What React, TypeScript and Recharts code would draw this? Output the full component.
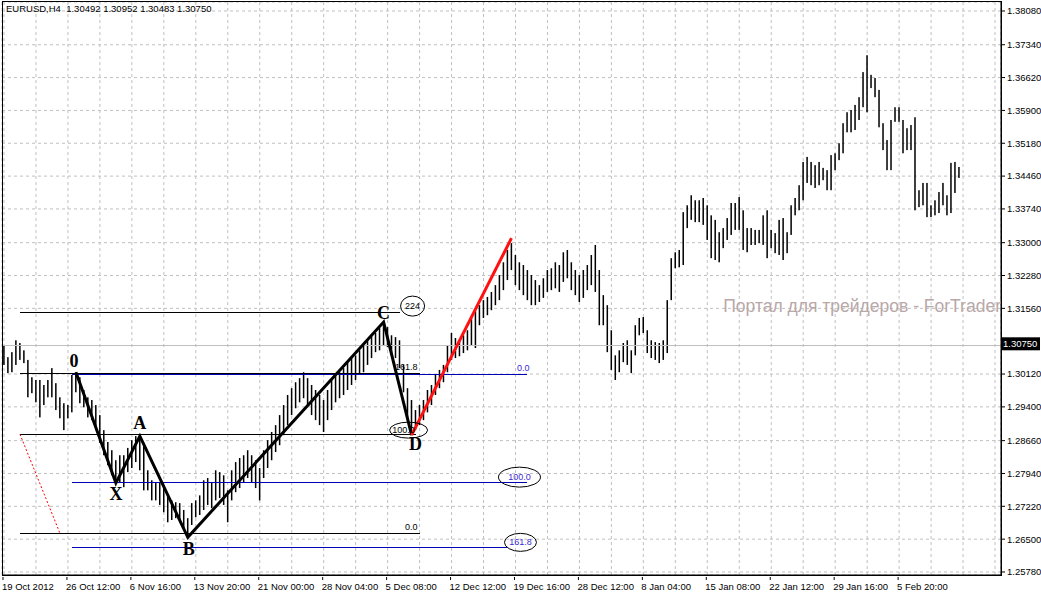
import {
  Bar,
  CartesianGrid,
  ComposedChart,
  Line,
  ReferenceDot,
  ReferenceLine,
  XAxis,
  YAxis,
} from "recharts";

// each column = two H4 bars, [high, low]
const OCT_19: [number, number][] = [
  [1.3075, 1.3032], [1.3049, 1.3014], [1.306, 1.3016], [1.3086, 1.3032],
  [1.308, 1.3043], [1.3064, 1.3036], [1.3043, 1.2961], [1.3005, 1.297],
  [1.2999, 1.295], [1.2999, 1.2917], [1.2988, 1.2944], [1.2999, 1.2961],
  [1.3025, 1.2961], [1.2992, 1.2933], [1.2961, 1.2915], [1.2948, 1.2889],
];
const OCT_26: [number, number][] = [
  [1.2944, 1.2915], [1.301, 1.2928], [1.3016, 1.2972], [1.3005, 1.2948],
  [1.2977, 1.2939], [1.2961, 1.2917], [1.2955, 1.2911], [1.2944, 1.2889],
  [1.2922, 1.2861], [1.2889, 1.2834], [1.2863, 1.2812], [1.2845, 1.279],
  [1.2823, 1.2773], [1.2834, 1.2773], [1.2834, 1.2764], [1.285, 1.2797],
];
const NOV_6: [number, number][] = [
  [1.2867, 1.2806], [1.2876, 1.2819], [1.2876, 1.2801], [1.2856, 1.2757],
  [1.2801, 1.2757], [1.2779, 1.2735], [1.2773, 1.2735], [1.2773, 1.2725],
  [1.2762, 1.2709], [1.2746, 1.2687], [1.2735, 1.2692], [1.2731, 1.2696],
  [1.2729, 1.2692], [1.2714, 1.267], [1.2696, 1.2654], [1.2729, 1.2681],
];
const NOV_13: [number, number][] = [
  [1.2735, 1.2698], [1.2746, 1.2703], [1.2779, 1.2714], [1.2784, 1.2725],
  [1.2775, 1.2718], [1.2801, 1.2735], [1.2797, 1.274], [1.279, 1.2725],
  [1.2757, 1.2687], [1.2801, 1.2735], [1.2819, 1.2753], [1.2828, 1.2762],
  [1.2834, 1.2775], [1.2845, 1.2784], [1.2834, 1.2775], [1.2823, 1.2762],
];
const NOV_21: [number, number][] = [
  [1.2806, 1.2735], [1.2845, 1.2784], [1.2867, 1.2806], [1.2885, 1.2823],
  [1.29, 1.2841], [1.2922, 1.2856], [1.2944, 1.2878], [1.2966, 1.29],
  [1.2981, 1.2922], [1.2994, 1.2937], [1.3003, 1.295], [1.3016, 1.2959],
  [1.3003, 1.2944], [1.2988, 1.2922], [1.2977, 1.2911], [1.2966, 1.29],
];
const NOV_28: [number, number][] = [
  [1.2955, 1.2885], [1.2977, 1.2911], [1.2999, 1.2933], [1.301, 1.295],
  [1.3016, 1.2959], [1.3025, 1.2966], [1.3038, 1.2977], [1.3047, 1.2988],
  [1.3053, 1.2999], [1.3064, 1.301], [1.3075, 1.3016], [1.3086, 1.3032],
  [1.3097, 1.3047], [1.3102, 1.306], [1.3113, 1.3064], [1.3126, 1.3075],
];
const DEC_5: [number, number][] = [
  [1.3115, 1.3071], [1.3097, 1.3053], [1.3093, 1.3047], [1.3086, 1.3025],
  [1.3032, 1.2972], [1.2981, 1.2915], [1.2955, 1.2878], [1.2933, 1.2889],
  [1.2944, 1.29], [1.2955, 1.2911], [1.2977, 1.2928], [1.2988, 1.2944],
  [1.301, 1.2966], [1.3021, 1.2981], [1.3032, 1.2994], [1.3075, 1.3016],
];
const DEC_12: [number, number][] = [
  [1.3102, 1.3043], [1.3091, 1.3047], [1.3086, 1.3051], [1.3097, 1.3058],
  [1.3108, 1.3064], [1.3135, 1.3075], [1.3152, 1.3069], [1.3163, 1.3119],
  [1.3174, 1.3135], [1.3181, 1.3141], [1.3192, 1.3152], [1.3207, 1.3163],
  [1.3229, 1.3174], [1.3257, 1.3196], [1.3284, 1.3218], [1.3299, 1.324],
];
const DEC_19: [number, number][] = [
  [1.3273, 1.3207], [1.3257, 1.3196], [1.3251, 1.3185], [1.324, 1.3174],
  [1.3229, 1.3163], [1.3218, 1.3163], [1.3207, 1.317], [1.3222, 1.3179],
  [1.324, 1.3192], [1.3244, 1.3196], [1.3257, 1.32], [1.3251, 1.3192],
  [1.3279, 1.3214], [1.3284, 1.3222], [1.3257, 1.3196], [1.324, 1.3185],
];
const DEC_28: [number, number][] = [
  [1.3229, 1.317], [1.324, 1.3179], [1.3251, 1.3196], [1.3273, 1.3207],
  [1.3295, 1.3192], [1.324, 1.3119], [1.3185, 1.3119], [1.3163, 1.306],
  [1.3108, 1.3021], [1.3053, 1.2999], [1.3064, 1.3016], [1.308, 1.3038],
  [1.3086, 1.3032], [1.3064, 1.3014], [1.3119, 1.3053], [1.3135, 1.3097],
];
const JAN_8: [number, number][] = [
  [1.3137, 1.3102], [1.3108, 1.3058], [1.3086, 1.3047], [1.3082, 1.3043],
  [1.308, 1.3036], [1.3086, 1.3043], [1.3174, 1.3058], [1.3266, 1.3174],
  [1.3279, 1.3244], [1.3284, 1.3246], [1.3367, 1.3251], [1.3382, 1.3332],
  [1.3404, 1.335], [1.3393, 1.3345], [1.3393, 1.3345], [1.3398, 1.3339],
];
const JAN_15: [number, number][] = [
  [1.3382, 1.3306], [1.336, 1.3266], [1.335, 1.3262], [1.3323, 1.3257],
  [1.3332, 1.3288], [1.3354, 1.3306], [1.3387, 1.3317], [1.3387, 1.3328],
  [1.34, 1.3328], [1.3371, 1.3284], [1.3332, 1.3279], [1.3332, 1.3295],
  [1.3328, 1.3295], [1.3328, 1.3299], [1.336, 1.3295], [1.3371, 1.3266],
];
const JAN_22: [number, number][] = [
  [1.3328, 1.3288], [1.3321, 1.3277], [1.335, 1.3273], [1.3354, 1.3262],
  [1.3323, 1.3277], [1.3382, 1.3317], [1.3398, 1.336], [1.3426, 1.3371],
  [1.3477, 1.3393], [1.3488, 1.3431], [1.3477, 1.3426], [1.347, 1.342],
  [1.3477, 1.3426], [1.3464, 1.3437], [1.3459, 1.3415], [1.3492, 1.3415],
];
const JAN_29: [number, number][] = [
  [1.3496, 1.3459], [1.3518, 1.3481], [1.3562, 1.3496], [1.3586, 1.3542],
  [1.3591, 1.3542], [1.3602, 1.3547], [1.3619, 1.3569], [1.3674, 1.3597],
  [1.3711, 1.3586], [1.3668, 1.3639], [1.3661, 1.3619], [1.3635, 1.3553],
  [1.3562, 1.3503], [1.3525, 1.3459], [1.3569, 1.3459], [1.3597, 1.3565],
];
const FEB_5: [number, number][] = [
  [1.3597, 1.3565], [1.3569, 1.3496], [1.3551, 1.3503], [1.3558, 1.3503],
  [1.3575, 1.3371], [1.3415, 1.3378], [1.3431, 1.3382], [1.3431, 1.3356],
  [1.3382, 1.3356], [1.3393, 1.336], [1.3411, 1.3365], [1.3431, 1.3382],
  [1.3404, 1.336], [1.3475, 1.3365], [1.3477, 1.3409], [1.3466, 1.3442],
];

const TIME_LABELS = [
  "19 Oct 2012", "26 Oct 12:00", "6 Nov 16:00", "13 Nov 20:00", "21 Nov 00:00",
  "28 Nov 04:00", "5 Dec 08:00", "12 Dec 12:00", "19 Dec 16:00", "28 Dec 12:00",
  "8 Jan 04:00", "15 Jan 08:00", "22 Jan 12:00", "29 Jan 16:00", "5 Feb 20:00",
];
// 1.30840 sits under the last-price box, so it is left out
const PRICE_TICKS = [
  1.3808, 1.3734, 1.3662, 1.359, 1.3518, 1.3446, 1.3374, 1.33, 1.3228,
  1.3156, 1.3012, 1.294, 1.2866, 1.2794, 1.2722, 1.265, 1.2578,
];

// pattern 0-X-A-B-C-D
const PIVOT_NAMES = ["0", "X", "A", "B", "C", "D"];
const PIVOT_SLOTS = [18, 28, 34, 46, 95, 102];
const PIVOT_PRICES = [1.3016, 1.2773, 1.2876, 1.2654, 1.3126, 1.2878];

const RED_SLOTS = [102, 127];
const RED_PRICES = [1.2878, 1.331];
const DOT_SLOTS = [4, 14];
const DOT_PRICES = [1.288, 1.2663];

// fibo levels
const BLACK_LEVELS = [1.3148, 1.3014, 1.288, 1.2663];
const BLACK_ENDS = [99, 104, 103, 104];
const BLUE_LEVELS = [1.301, 1.2775, 1.2632];
const BLUE_ENDS = [131, 131, 126];

const LAST_PRICE = 1.3075;
const TITLE = "EURUSD,H4  1.30492 1.30952 1.30483 1.30750";
const WATERMARK = "Портал для трейдеров - ForTrader";

const SLOTS = 250;
const BARS = [
  OCT_19, OCT_26, NOV_6, NOV_13, NOV_21, NOV_28, DEC_5, DEC_12,
  DEC_19, DEC_28, JAN_8, JAN_15, JAN_22, JAN_29, FEB_5,
].flat();

const rows = Array.from({ length: SLOTS }, (_, i) => {
  const row: any = { i, hl: BARS[i] ? [BARS[i][1], BARS[i][0]] : null };
  const pv = PIVOT_SLOTS.indexOf(i);
  row.zz = pv >= 0 ? PIVOT_PRICES[pv] : null;
  const rd = RED_SLOTS.indexOf(i);
  row.red = rd >= 0 ? RED_PRICES[rd] : null;
  const dt = DOT_SLOTS.indexOf(i);
  row.dot = dt >= 0 ? DOT_PRICES[dt] : null;
  BLACK_LEVELS.forEach((p, n) => {
    row[`k${n}`] = i === 4 || i === BLACK_ENDS[n] ? p : null;
  });
  BLUE_LEVELS.forEach((p, n) => {
    row[`b${n}`] = i === 17 || i === BLUE_ENDS[n] ? p : null;
  });
  return row;
});

const FONT = "'Liberation Sans', Arial, sans-serif";
const SERIF = "'Liberation Serif', 'Times New Roman', serif";
const BLUE = "#0000b4";
const BLUE_TEXT = "#3a2ad8";

// where each pivot letter sits relative to its point
const LETTER_OFFSET: Record<string, [number, number]> = {
  "0": [-2, -5], X: [0, 17], A: [0, -7], B: [1, 18], C: [0, -3], D: [4, 15],
};

function TimeTick({ x, y, payload }: any) {
  const i = payload.value;
  const label = i % 16 === 0 ? TIME_LABELS[i / 16] : undefined;
  if (!label) return <g />;
  return (
    <g>
      <line x1={x - 1} x2={x - 1} y1={y} y2={y + 3} stroke="#000" />
      <text x={x - 2} y={y + 13} fontSize={9.5} fontFamily={FONT} fill="#000">
        {label}
      </text>
    </g>
  );
}

function OhlcBar(props: any) {
  if (!props.payload || !props.payload.hl) return <g />;
  const { x, y, width, height } = props;
  const top = height < 0 ? y + height : y;
  return <rect x={x + width / 2 - 0.75} y={top} width={1.5} height={Math.max(Math.abs(height), 1)} fill="#000" />;
}

function textShape(render: (cx: number, cy: number) => any) {
  return (p: any) => render(p.cx, p.cy);
}

export default function App() {
  return (
    <div style={{ position: "absolute", left: 0, top: 0, width: 1041, height: 592, background: "#fff" }}>
      <ComposedChart width={1041} height={592} data={rows} margin={{ top: 2, right: 0, bottom: 0, left: 2 }}>
        <CartesianGrid stroke="#c0c0c0" strokeDasharray="3 3" />
        <XAxis
          dataKey="i"
          type="category"
          ticks={Array.from({ length: 32 }, (_, k) => k * 8)}
          interval={0}
          tick={<TimeTick />}
          tickLine={false}
          tickSize={0}
          height={17}
          axisLine={{ stroke: "#000" }}
        />
        <YAxis
          orientation="right"
          domain={[1.25714, 1.38277]}
          ticks={PRICE_TICKS}
          allowDataOverflow
          width={40}
          tickSize={4}
          tickMargin={2}
          tickLine={{ stroke: "#000" }}
          axisLine={{ stroke: "#000" }}
          tick={{ fontSize: 9.5, fill: "#000", fontFamily: FONT }}
          tickFormatter={(v: number) => v.toFixed(5)}
        />
        <ReferenceLine y={LAST_PRICE} stroke="#c0c0c0" shapeRendering="crispEdges" />
        <Bar dataKey="hl" shape={<OhlcBar />} isAnimationActive={false} />
        {BLACK_LEVELS.map((_, n) => (
          <Line key={`k${n}`} dataKey={`k${n}`} stroke="#000" strokeWidth={1} shapeRendering="crispEdges" dot={false} activeDot={false} connectNulls isAnimationActive={false} />
        ))}
        {BLUE_LEVELS.map((_, n) => (
          <Line key={`b${n}`} dataKey={`b${n}`} stroke={BLUE} strokeWidth={1} shapeRendering="crispEdges" dot={false} activeDot={false} connectNulls isAnimationActive={false} />
        ))}
        <Line dataKey="dot" stroke="#ff0000" strokeWidth={1} strokeDasharray="2 2" dot={false} activeDot={false} connectNulls isAnimationActive={false} />
        <Line dataKey="zz" stroke="#000" strokeWidth={3} dot={false} activeDot={false} connectNulls isAnimationActive={false} />
        <Line dataKey="red" stroke="#ff1010" strokeWidth={3} dot={false} activeDot={false} connectNulls isAnimationActive={false} />

        {PIVOT_NAMES.map((name, n) => (
          <ReferenceDot
            key={name}
            x={PIVOT_SLOTS[n]}
            y={PIVOT_PRICES[n]}
            r={0}
            shape={textShape((cx, cy) => (
              <text x={cx + LETTER_OFFSET[name][0]} y={cy + LETTER_OFFSET[name][1]} textAnchor="middle" fontSize={18} fontWeight="bold" fontFamily={SERIF} fill="#000">
                {name}
              </text>
            ))}
          />
        ))}

        <ReferenceDot x={102} y={1.3161} r={0} shape={textShape((cx, cy) => (
          <g>
            <ellipse cx={cx + 1} cy={cy} rx={12} ry={10} fill="none" stroke="#000" />
            <text x={cx + 1} y={cy + 3} textAnchor="middle" fontSize={9} fontFamily={FONT} fill="#000">224</text>
          </g>
        ))} />
        <ReferenceDot x={101} y={1.2889} r={0} shape={textShape((cx, cy) => (
          <g>
            <ellipse cx={cx + 1} cy={cy} rx={19} ry={8} fill="none" stroke="#000" />
            <text x={cx - 4} y={cy + 3} textAnchor="middle" fontSize={9} fontFamily={FONT} fill="#000">100.0</text>
          </g>
        ))} />
        <ReferenceDot x={104} y={BLACK_LEVELS[1]} r={0} shape={textShape((cx, cy) => (
          <text x={cx - 2} y={cy - 3} textAnchor="end" fontSize={9} fontFamily={FONT} fill="#000">161.8</text>
        ))} />
        <ReferenceDot x={104} y={BLACK_LEVELS[3]} r={0} shape={textShape((cx, cy) => (
          <text x={cx - 2} y={cy - 3} textAnchor="end" fontSize={9} fontFamily={FONT} fill="#000">0.0</text>
        ))} />
        <ReferenceDot x={131} y={BLUE_LEVELS[0]} r={0} shape={textShape((cx, cy) => (
          <text x={cx + 2} y={cy - 4} textAnchor="end" fontSize={9} fontFamily={FONT} fill={BLUE_TEXT}>0.0</text>
        ))} />
        <ReferenceDot x={129} y={BLUE_LEVELS[1]} r={0} shape={textShape((cx, cy) => (
          <g>
            <ellipse cx={cx} cy={cy - 5} rx={21} ry={10} fill="none" stroke="#000" />
            <text x={cx} y={cy - 2} textAnchor="middle" fontSize={9} fontFamily={FONT} fill={BLUE_TEXT}>100.0</text>
          </g>
        ))} />
        <ReferenceDot x={129} y={BLUE_LEVELS[2]} r={0} shape={textShape((cx, cy) => (
          <g>
            <ellipse cx={cx + 1} cy={cy - 5} rx={16} ry={9} fill="none" stroke="#000" />
            <text x={cx + 1} y={cy - 2} textAnchor="middle" fontSize={9} fontFamily={FONT} fill={BLUE_TEXT}>161.8</text>
          </g>
        ))} />

        <ReferenceDot x={180} y={1.3161} r={0} ifOverflow="visible" shape={textShape((cx, cy) => (
          <text x={cx} y={cy + 6} fontSize={17.5} fontFamily={FONT} fill="#b8a8a8">{WATERMARK}</text>
        ))} />
        <ReferenceDot x={SLOTS - 1} y={LAST_PRICE} r={0} ifOverflow="visible" shape={textShape((cx, cy) => (
          <g>
            <rect x={cx + 2} y={cy - 8} width={39} height={13} fill="#000" />
            <text x={cx + 4} y={cy + 2} fontSize={9.5} fontFamily={FONT} fill="#fff">1.30750</text>
          </g>
        ))} />
      </ComposedChart>
      <div style={{ position: "absolute", left: 2, top: 1, width: 1000, height: 575, border: "1px solid #000", boxSizing: "border-box", pointerEvents: "none" }} />
      <div style={{ position: "absolute", left: 6, top: 3, fontSize: 9.5, fontFamily: FONT, color: "#000", whiteSpace: "pre" }}>
        {TITLE}
      </div>
    </div>
  );
}
